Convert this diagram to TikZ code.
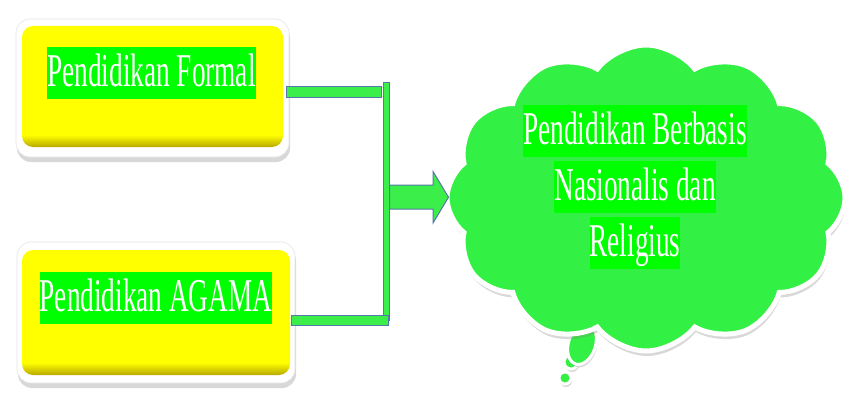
\documentclass[tikz,border=0pt]{standalone}
\usepackage{fontspec}
\newfontfamily\cnd[FakeStretch=0.58]{Liberation Serif}
\usetikzlibrary{shapes.symbols,shapes.arrows,shapes.geometric,shadows,calc}
\definecolor{yel}{HTML}{FFFF00}
\definecolor{dyel}{HTML}{B8A800}
\definecolor{hlg}{HTML}{00FF00}
\definecolor{cg}{HTML}{33F044}
\definecolor{barg}{HTML}{3CEE4A}
\definecolor{bline}{HTML}{5577AA}
\pgfdeclareverticalshading{yelsh}{100bp}{color(0bp)=(dyel); color(25bp)=(dyel); color(30bp)=(yel); color(100bp)=(yel)}
\newcommand\hl[1]{{\setlength{\fboxsep}{0pt}\colorbox{hlg}{\rule[-13pt]{0pt}{52pt}#1}}}
\begin{document}
\begin{tikzpicture}[x=1pt,y=-1pt,
  outerbox/.style={rectangle, rounded corners=14pt, fill=white, draw=gray!20, line width=0.6pt,
    drop shadow={shadow xshift=1pt, shadow yshift=-5pt, opacity=0.3, fill=gray}, inner sep=0},
  innerbox/.style={rectangle, rounded corners=11pt, shading=yelsh, inner sep=0},
  lbl/.style={inner sep=0, text=white, align=center, font=\cnd\fontsize{47}{56}\selectfont},
  bar/.style={draw=bline, line width=1pt, fill=barg},
  blockarrow/.style={single arrow, draw=bline, line width=1pt, fill=barg, minimum height=59pt,
    minimum width=50pt, single arrow head extend=13.5pt, single arrow tip angle=118,
    inner xsep=0pt, inner ysep=11.5pt, text height=0pt, text depth=0pt},
  thought/.style={cloud, cloud puffs=12, cloud puff arc=105, aspect=1.4, fill=cg, draw=white,
    line width=5pt, minimum width=398pt, minimum height=306pt, inner sep=0,
    drop shadow={shadow xshift=1pt, shadow yshift=-5pt, opacity=0.3, fill=gray}},
  bubble/.style={ellipse, fill=cg, draw=white, line width=3pt, inner sep=0,
    drop shadow={shadow xshift=1pt, shadow yshift=-3pt, opacity=0.3, fill=gray}}
]
\useasboundingbox[fill=white] (0,0) rectangle (850,393);

% boxes
\node[outerbox, minimum width=273pt, minimum height=138pt] (f1o) at (152.5,88) {};
\node[innerbox, minimum width=261pt, minimum height=121pt] (f1) at (152.5,86.5) {};
\node[lbl] (f1t) at (151.5,73.5) {\hl{Pendidikan Formal}};

\node[outerbox, minimum width=278pt, minimum height=141pt] (f2o) at (156,312.5) {};
\node[innerbox, minimum width=268pt, minimum height=125pt] (f2) at (156,312.5) {};
\node[lbl] (f2t) at (156,298) {\hl{Pendidikan AGAMA}};

% connectors
\coordinate (jt) at (386,83);
\coordinate (jb) at (386,320);
\draw[bar] ($(f1o.east)+(-3,-1)$) rectangle ($(jt)+(-5,15)$);
\draw[bar] ($(jt)+(-3,0)$) rectangle ($(jb)+(3,0)$);
\draw[bar] ($(f2o.east)+(-4,2.5)$) rectangle ($(jb)+(2,5)$);

% tail bubbles
\node[bubble, minimum width=12pt, minimum height=12pt] (b3) at (565,378) {};
\node[bubble, minimum width=14pt, minimum height=14pt] (b2) at (571,362) {};
\node[bubble, minimum width=27pt, minimum height=42pt, rotate=-18] (b1) at (582,344) {};

% cloud
\node[thought] (c) at (646,198) {};
\node[blockarrow, anchor=tail] (ar) at ($(jt)!0.482!(jb)+(3,0)$) {};
\node[lbl] (ct) at (635,187) {\hl{Pendidikan Berbasis}\\\hl{Nasionalis dan}\\\hl{Religius}};
\end{tikzpicture}
\end{document}
